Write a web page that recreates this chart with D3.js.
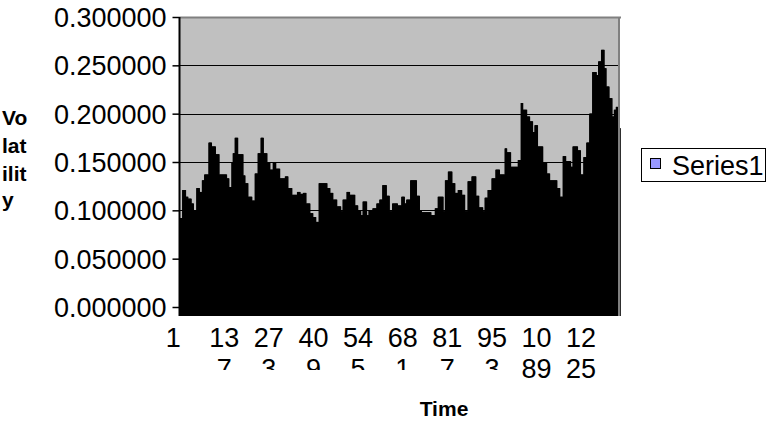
<!DOCTYPE html>
<html><head><meta charset="utf-8">
<script src="https://cdn.jsdelivr.net/npm/d3@7"></script>
<style>body{margin:0;background:#fff;overflow:hidden} text{font-family:"Liberation Sans",Arial,sans-serif;fill:#000}</style>
</head><body><svg id="c" width="767" height="430"></svg>
<script>
// ---- data ----
const seriesName = "Series1";
const yTickValues = [0, 0.05, 0.1, 0.15, 0.2, 0.25, 0.3];
const xTickLabels = ["1","137","273","409","545","681","817","953","1089","1225"];
const yTitleLines = ["Vo","lat","ilit","y"];
const xTitle = "Time";
const volatility = [
.092,.092,.092,.092,.092,.092,.092,.092,
.121,.121,.121,.121,.121,.121,.121,.121,.121,.121,
.114,.114,.114,.114,.114,.114,.114,
.112,.112,.112,.112,.112,.112,.112,.112,.112,.112,
.107,.107,.107,.107,.107,.107,.107,
.100,.100,.100,.100,.100,.100,.100,.100,.100,
.123,.123,.123,.123,.123,.123,.123,.123,.123,
.119,.119,.119,.119,.119,.119,.119,.119,
.131,.131,.131,.131,.131,.131,.131,
.137,.137,.137,.137,.137,.137,.137,.137,.137,.137,.137,.137,.137,
.170,.170,.170,.170,.170,.170,.170,.170,.170,
.166,.166,.166,.166,.166,.166,.166,.166,.166,.166,.166,.166,
.158,.158,.158,.158,.158,.158,.158,.158,.158,.158,.158,
.137,.137,.137,.137,.137,.137,.137,.137,.137,.137,.137,.137,.137,.137,.137,.137,.137,.137,.137,.137,.137,.137,.137,
.133,.133,.133,.133,.133,.133,.133,
.124,.124,.124,.124,.124,.124,.124,.124,
.150,.150,.150,.150,
.159,.159,.159,.159,.159,.159,
.175,.175,.175,.175,.175,.175,.175,.175,.175,
.158,.158,.158,.158,.158,.158,.158,.158,.158,.158,.158,.158,.158,.158,.158,.158,
.136,.136,.136,.136,.136,.136,
.128,.128,.128,.128,.128,.128,.128,.128,.128,
.114,.114,.114,.114,.114,.114,.114,.114,.114,.114,.114,.114,
.110,.110,.110,.110,.110,.110,.110,.110,.110,
.138,.138,.138,.138,.138,.138,.138,.138,.138,
.159,.159,.159,.159,.159,.159,.159,.159,.159,
.175,.175,.175,.175,.175,.175,.175,.175,
.159,.159,.159,.159,.159,.159,.159,.159,.159,.159,.159,
.150,.150,.150,.150,.150,.150,.150,.150,.150,
.142,.142,.142,.142,.142,.142,.142,.142,.142,
.149,.149,.149,.149,.149,.149,.149,.149,.149,
.143,.143,.143,.143,.143,.143,.143,.143,.143,.143,.143,.143,
.133,.133,.133,.133,.133,.133,.133,.133,.133,.133,.133,.133,.133,.133,.133,.133,
.135,.135,.135,.135,.135,.135,.135,.135,.135,
.123,.123,.123,.123,.123,.123,.123,.123,.123,.123,.123,.123,
.116,.116,.116,.116,.116,.116,.116,.116,.116,.116,.116,.116,.116,.116,.116,.116,
.119,.119,.119,.119,.119,.119,.119,.119,.119,
.117,.117,.117,.117,.117,.117,.117,.117,.117,
.118,.118,.118,.118,.118,.118,.118,.118,.118,
.107,.107,.107,.107,.107,.107,.107,.107,.107,.107,.107,.107,
.097,.097,.097,.097,.097,.097,.097,.097,.097,
.093,.093,.093,.093,.093,.093,.093,.093,.093,
.088,.088,.088,.088,.088,.088,.088,.088,.088,
.128,.128,.128,.128,.128,.128,.128,.128,.128,.128,.128,.128,.128,.128,.128,.128,.128,.128,.128,.128,.128,.128,.128,.128,.128,
.123,.123,.123,.123,.123,.123,.123,.123,.123,
.118,.118,.118,.118,.118,.118,.118,.118,.118,
.111,.111,.111,.111,.111,.111,.111,.111,.111,.111,.111,.111,
.104,.104,.104,.104,.104,.104,.104,.104,.104,.104,.104,.104,
.099,.099,.099,.099,.099,.099,
.111,.111,.111,.111,.111,.111,.111,.111,.111,.111,.111,.111,
.119,.119,.119,.119,.119,.119,.119,.119,.119,
.116,.116,.116,.116,.116,.116,.116,.116,.116,.116,.116,.116,.116,.116,.116,.116,
.105,.105,.105,.105,.105,.105,.105,.105,.105,
.100,.100,.100,.100,.100,.100,.100,.100,.100,
.095,.095,.095,.095,.095,.095,
.109,.109,.109,.109,.109,.109,.109,.109,.109,.109,.109,.109,
.095,.095,.095,.095,.095,.095,
.100,.100,.100,.100,.100,.100,.100,.100,.100,.100,.100,.100,
.102,.102,.102,.102,.102,.102,.102,.102,.102,.102,.102,.102,
.107,.107,.107,.107,.107,.107,.107,.107,.107,
.111,.111,.111,.111,.111,.111,.111,.111,.111,
.126,.126,.126,.126,.126,.126,.126,.126,.126,.126,.126,.126,
.115,.115,.115,.115,.115,.115,.115,.115,.115,
.099,.099,.099,.099,.099,.099,.099,.099,.099,
.107,.107,.107,.107,.107,.107,.107,.107,.107,.107,.107,.107,.107,.107,.107,.107,
.105,.105,.105,.105,.105,.105,.105,.105,.105,.105,.105,.105,
.114,.114,.114,.114,.114,.114,.114,.114,.114,
.107,.107,.107,.107,.107,.107,
.111,.111,.111,.111,.111,.111,.111,.111,.111,.111,.111,.111,
.131,.131,.131,.131,.131,.131,.131,.131,.131,.131,.131,.131,.131,.131,.131,.131,.131,.131,.131,
.115,.115,.115,.115,.115,.115,.115,.115,.115,
.100,.100,.100,.100,.100,.100,
.098,.098,.098,.098,.098,.098,.098,.098,.098,.098,.098,.098,.098,.098,.098,.098,.098,.098,.098,.098,.098,.098,.098,.098,.098,.098,.098,.098,.098,
.095,.095,.095,.095,.095,.095,.095,.095,.095,.095,.095,.095,
.102,.102,.102,.102,.102,.102,.102,.102,.102,
.114,.114,.114,.114,.114,.114,.114,.114,.114,.114,.114,.114,.114,.114,.114,.114,
.099,.099,.099,.099,.099,.099,
.131,.131,.131,.131,.131,.131,.131,.131,.131,
.140,.140,.140,.140,.140,.140,.140,.140,.140,.140,.140,.140,
.128,.128,.128,.128,.128,.128,.128,.128,.128,
.118,.118,.118,.118,.118,.118,.118,.118,.118,
.121,.121,.121,.121,.121,.121,.121,.121,.121,.121,.121,.121,
.116,.116,.116,.116,.116,.116,.116,.116,.116,
.099,.099,.099,.099,.099,.099,.099,.099,.099,
.130,.130,.130,.130,.130,.130,.130,.130,.130,.130,.130,.130,
.135,.135,.135,.135,.135,.135,.135,.135,.135,.135,.135,.135,.135,
.115,.115,.115,.115,.115,.115,.115,.115,.115,
.103,.103,.103,.103,.103,.103,.103,.103,.103,.103,.103,.103,
.099,.099,.099,.099,.099,.099,
.113,.113,.113,.113,.113,.113,.113,.113,.113,
.121,.121,.121,.121,.121,.121,.121,.121,.121,.121,.121,.121,
.133,.133,.133,.133,.133,.133,.133,.133,.133,.133,.133,.133,
.142,.142,.142,.142,.142,.142,.142,.142,.142,.142,.142,.142,
.137,.137,.137,.137,.137,.137,.137,.137,.137,.137,.137,.137,.137,.137,.137,.137,
.164,.164,.164,.164,.164,.164,
.160,.160,.160,.160,.160,.160,.160,.160,.160,.160,.160,.160,
.145,.145,.145,.145,.145,.145,.145,.145,.145,.145,.145,.145,.145,.145,.145,.145,.145,.145,.145,.145,.145,.145,
.152,.152,.152,.152,.152,.152,.152,.152,.152,
.211,.211,.211,.211,.211,.211,
.204,.204,.204,.204,.204,.204,.204,.204,.204,.204,.204,.204,
.197,.197,.197,.197,.197,.197,.197,.197,.197,
.192,.192,.192,.192,.192,.192,.192,.192,.192,
.181,.181,.181,.181,.181,.181,
.188,.188,.188,.188,.188,.188,.188,.188,.188,
.166,.166,.166,.166,.166,.166,.166,.166,.166,.166,.166,.166,.166,.166,.166,.166,
.149,.149,.149,.149,.149,.149,.149,.149,.149,.149,.149,.149,
.138,.138,.138,.138,.138,.138,.138,.138,.138,
.131,.131,.131,.131,.131,.131,.131,.131,.131,.131,.131,.131,.131,.131,.131,.131,.131,.131,.131,.131,.131,.131,
.123,.123,.123,.123,.123,.123,.123,.123,.123,
.114,.114,.114,.114,.114,.114,.114,.114,.114,
.156,.156,.156,.156,.156,.156,.156,.156,.156,
.151,.151,.151,.151,.151,.151,.151,.151,.151,.151,.151,.151,.151,.151,.151,
.145,.145,.145,.145,.145,.145,
.166,.166,.166,.166,.166,.166,.166,.166,.166,.166,.166,.166,.166,.166,.166,
.162,.162,.162,.162,.162,.162,.162,.162,.162,
.137,.137,.137,.137,.137,.137,.137,.137,.137,
.155,.155,.155,.155,.155,.155,.155,.155,.155,
.170,.170,.170,.170,.170,.170,.170,.170,.170,
.200,.200,.200,.200,.200,.200,.200,.200,.200,
.243,.243,.243,.243,.243,.243,.243,.243,.243,.243,.243,.243,
.240,.240,.240,.240,.240,.240,
.254,.254,.254,.254,.254,.254,.254,.254,.254,
.266,.266,.266,.266,.266,.266,.266,.266,.266,
.247,.247,.247,.247,.247,.247,
.228,.228,.228,.228,.228,.228,.228,.228,.228,
.216,.216,.216,.216,.216,.216,.216,.216,.216,
.197,.197,.197,.197,.197,.197,
.204,.204,.204,.204,.204,.204,
.207,.207,.207,.207,.207,
.185,.185,.185,.185,.185,.185,.185,.185
];
const categories = volatility.map((d, i) => i + 1);

// ---- layout ----
const svg = d3.select("#c");
const L = 179.5, R = 620, T = 17, B = 316;
const x = d3.scaleBand().domain(categories).range([L, R]).padding(0);
const y = d3.scaleLinear().domain([0, 0.3]).range([307, T]);

// plot background
svg.append("rect").attr("x", L).attr("y", T).attr("width", R - L).attr("height", B - T).attr("fill", "#C0C0C0");

// gridlines
svg.append("g").selectAll("line").data(yTickValues.filter(v => v > 0 && v < 0.3)).join("line")
  .attr("x1", L).attr("x2", R).attr("y1", d => Math.round(y(d)) + 0.5).attr("y2", d => Math.round(y(d)) + 0.5)
  .attr("stroke", "#000").attr("stroke-width", 1);

// bars
svg.append("g").selectAll("rect").data(volatility).join("rect")
  .attr("x", (d, i) => x(categories[i]))
  .attr("width", x.bandwidth() + 0.7)
  .attr("y", d => y(d))
  .attr("height", d => B - y(d))
  .attr("fill", "#000");

// plot border (top & right, gray)
svg.append("line").attr("x1", L).attr("x2", R + 1).attr("y1", T + 0.5).attr("y2", T + 0.5).attr("stroke", "#808080").attr("stroke-width", 2);
svg.append("line").attr("x1", R - 1).attr("x2", R - 1).attr("y1", T).attr("y2", B).attr("stroke", "#808080").attr("stroke-width", 2);

// y axis
const yAxis = d3.axisLeft(y).tickValues(yTickValues).tickFormat(d3.format(".6f")).tickSize(7).tickPadding(6);
const gy = svg.append("g").attr("transform", `translate(${L},0)`).call(yAxis);
gy.select(".domain").remove();
gy.selectAll(".tick line").attr("stroke", "#000").attr("stroke-width", 1.5);
gy.selectAll(".tick text").attr("font-size", 27).attr("font-family", "'Liberation Sans', Arial, sans-serif").attr("dy", "0.35em");
svg.append("line").attr("x1", L).attr("x2", L).attr("y1", T).attr("y2", B).attr("stroke", "#000").attr("stroke-width", 2);

// x tick labels (wrapped like Excel)
const defs = svg.append("defs");
defs.append("clipPath").attr("id", "clipShort").append("rect").attr("x", 0).attr("y", 0).attr("width", 767).attr("height", 370);
const gx = svg.append("g");
xTickLabels.forEach((lab, k) => {
  const cx = x(+lab) + x.bandwidth() / 2;
  const first = lab.slice(0, 2), second = lab.slice(2);
  const t1 = gx.append("text").attr("x", cx).attr("y", 347).attr("font-size", 27)
    .attr("text-anchor", k === 0 ? "end" : "middle").text(first);
  if (k === 0) t1.attr("dx", 1);
  if (second) {
    const t2 = gx.append("text").attr("x", cx).attr("y", 378).attr("font-size", 27)
      .attr("text-anchor", "middle").text(second);
    if (second.length === 1) t2.attr("clip-path", "url(#clipShort)");
  }
});

// axis titles
svg.append("text").attr("x", 444).attr("y", 416).attr("text-anchor", "middle")
  .attr("font-size", 21).attr("font-weight", "bold").text(xTitle);
const yt = svg.append("text").attr("font-size", 21).attr("font-weight", "bold");
yTitleLines.forEach((s, i) => yt.append("tspan").attr("x", 2).attr("y", [125, 153, 181, 207][i]).text(s));

// legend
const lg = svg.append("g");
lg.append("rect").attr("x", 641.5).attr("y", 148.5).attr("width", 124).attr("height", 33).attr("fill", "#fff").attr("stroke", "#000");
lg.append("rect").attr("x", 650.5).attr("y", 158.5).attr("width", 10).attr("height", 10).attr("fill", "#9999FF").attr("stroke", "#000");
lg.append("text").attr("x", 672).attr("y", 175).attr("font-size", 27).text(seriesName);
</script></body></html>
